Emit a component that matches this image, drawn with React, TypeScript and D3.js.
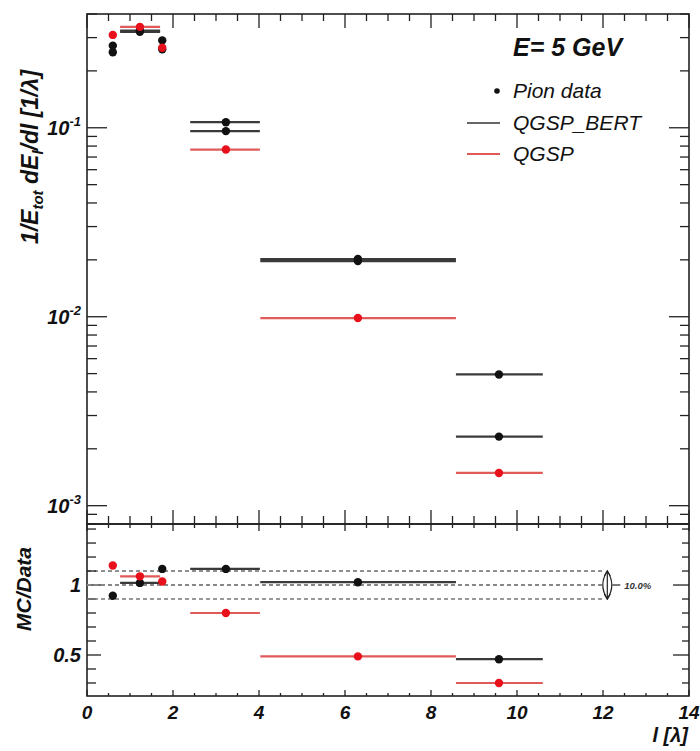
import React from 'react';
import * as d3 from 'd3';

// ---- data ----
const binCenter = [0.6, 1.23, 1.75, 3.23, 6.3, 9.58];
const binLo = [0.52, 0.77, 1.7, 2.4, 4.03, 8.58];
const binHi = [0.68, 1.7, 1.8, 4.02, 8.58, 10.6];
const pionData = [0.272, 0.322, 0.26, 0.096, 0.0197, 0.00495];
const qgspBert = [0.251, 0.327, 0.29, 0.107, 0.0202, 0.00232];
const qgsp = [0.31, 0.342, 0.265, 0.0767, 0.00984, 0.00149];
const ratioBert = [0.923, 1.015, 1.115, 1.115, 1.02, 0.47];
const ratioQgsp = [1.14, 1.062, 1.025, 0.8, 0.49, 0.3];
const xTickLabels = [0, 2, 4, 6, 8, 10, 12, 14];
const yTopDecades = [1e-3, 1e-2, 1e-1];
const yTopExponents = ['-3', '-2', '-1'];
const yBotLabels = [0.5, 1];
const bandLevels = [0.9, 1.0, 1.1];
const bandLabel = '10.0%';
const energyLabel = 'E= 5 GeV';
const legendNames = ['Pion data', 'QGSP_BERT', 'QGSP'];

const W = 700;
const H = 751;
const L = 87;
const R = 689;
const T = 14;
const MID = 524;
const B = 696;

const FONT = "'Liberation Sans', Arial, Helvetica, sans-serif";
const BLACK = '#111';
const BAR_BLACK = '#3a3a3a';
const RED = '#e8101a';
const BAR_RED = '#e05a5a';

export default function App() {
  const x = d3.scaleLinear().domain([0, 14]).range([L, R]);
  const yTop = d3.scaleLog().domain([0.0008, 0.4]).range([MID, T]);
  const yBot = d3.scaleLinear().domain([0.207, 1.436]).range([B, MID]);

  const xMinor = d3.range(0, 14.001, 0.5);
  const topMinor = yTop.ticks(40).filter((v) => v >= 0.0008 && v <= 0.4);
  const botMinor = d3.range(3, 15, 1).map((v) => v / 10);

  const isMajorX = (v: number) => Math.abs(v / 2 - Math.round(v / 2)) < 1e-6;
  const isDecade = (v: number) => Math.abs(Math.log10(v) - Math.round(Math.log10(v))) < 1e-6;
  const isMajorBot = (v: number) => Math.abs(v - 0.5) < 1e-6 || Math.abs(v - 1) < 1e-6;

  const series = [
    { vals: pionData, bar: BAR_BLACK, dot: BLACK },
    { vals: qgspBert, bar: BAR_BLACK, dot: BLACK },
    { vals: qgsp, bar: BAR_RED, dot: RED },
  ];
  const ratioSeries = [
    { vals: ratioBert, bar: BAR_BLACK, dot: BLACK },
    { vals: ratioQgsp, bar: BAR_RED, dot: RED },
  ];

  const arrowX = x(12.1);
  const yA = yBot(bandLevels[2]);
  const yB = yBot(bandLevels[0]);
  const yM = yBot(bandLevels[1]);

  return (
    <svg width={W} height={H} style={{ position: 'absolute', left: 0, top: 0, background: '#fff' }} fontFamily={FONT}>
      <rect x={0} y={0} width={W} height={H} fill="#fff" />

      {/* ---- ticks ---- */}
      <g stroke="#222" strokeWidth={1.3}>
        {xMinor.map((v, i) => {
          const len = isMajorX(v) ? 14 : 7;
          return (
            <g key={'xt' + i}>
              <line x1={x(v)} x2={x(v)} y1={T} y2={T + len} />
              <line x1={x(v)} x2={x(v)} y1={MID} y2={MID - (isMajorX(v) ? 14 : 8)} />
              <line x1={x(v)} x2={x(v)} y1={MID} y2={MID + (isMajorX(v) ? 7 : 4)} />
              <line x1={x(v)} x2={x(v)} y1={B} y2={B - (isMajorX(v) ? 6 : 3)} />
            </g>
          );
        })}
        {topMinor.map((v, i) => {
          const dec = isDecade(v);
          return (
            <g key={'yt' + i}>
              <line x1={L} x2={L + (dec ? 20 : 10)} y1={yTop(v)} y2={yTop(v)} />
              <line x1={R} x2={R - (dec ? 20 : 9)} y1={yTop(v)} y2={yTop(v)} />
            </g>
          );
        })}
        {botMinor.map((v, i) => {
          const maj = isMajorBot(v);
          return (
            <g key={'yb' + i}>
              <line x1={L} x2={L + (maj ? 14 : 9)} y1={yBot(v)} y2={yBot(v)} />
              <line x1={R} x2={R - (maj ? 16 : 7)} y1={yBot(v)} y2={yBot(v)} />
            </g>
          );
        })}
      </g>

      {/* frames */}
      <rect x={L} y={T} width={R - L} height={MID - T} fill="none" stroke="#222" strokeWidth={1.6} />
      <rect x={L} y={MID} width={R - L} height={B - MID} fill="none" stroke="#222" strokeWidth={1.6} />

      {/* ---- top panel data ---- */}
      {series.map((s, si) => (
        <g key={'s' + si}>
          {s.vals.map((v, i) => (
            <line key={'b' + i} x1={x(binLo[i])} x2={x(binHi[i])} y1={yTop(v)} y2={yTop(v)} stroke={s.bar} strokeWidth={2.2} />
          ))}
        </g>
      ))}
      {series.map((s, si) => (
        <g key={'d' + si}>
          {s.vals.map((v, i) => (
            <circle key={'c' + i} cx={x(binCenter[i])} cy={yTop(v)} r={4.2} fill={s.dot} />
          ))}
        </g>
      ))}

      {/* ---- ratio panel ---- */}
      <line x1={x(0)} x2={x(12)} y1={yA} y2={yA} stroke="#222" strokeWidth={1} strokeDasharray="4,3" />
      <line x1={x(0)} x2={x(12)} y1={yM} y2={yM} stroke="#888" strokeWidth={1.8} strokeDasharray="4,3" />
      <line x1={x(0)} x2={x(12)} y1={yB} y2={yB} stroke="#777" strokeWidth={1.5} strokeDasharray="4,3" />
      {ratioSeries.map((s, si) => (
        <g key={'r' + si}>
          {s.vals.map((v, i) => (
            <line key={'rb' + i} x1={x(binLo[i])} x2={x(binHi[i])} y1={yBot(v)} y2={yBot(v)} stroke={s.bar} strokeWidth={2.2} />
          ))}
        </g>
      ))}
      {ratioSeries.map((s, si) => (
        <g key={'rd' + si}>
          {s.vals.map((v, i) => (
            <circle key={'rc' + i} cx={x(binCenter[i])} cy={yBot(v)} r={4.2} fill={s.dot} />
          ))}
        </g>
      ))}

      {/* band arrow */}
      <g stroke="#222" strokeWidth={1.2} fill="none">
        <line x1={arrowX} x2={arrowX} y1={yA} y2={yB} />
        <path d={`M${arrowX},${yA} Q${arrowX - 9},${yM} ${arrowX},${yB} Q${arrowX + 9},${yM} ${arrowX},${yA} Z`} />
        <path d={`M${arrowX - 3},${yA + 5} L${arrowX},${yA} L${arrowX + 3},${yA + 5}`} />
        <path d={`M${arrowX - 3},${yB - 5} L${arrowX},${yB} L${arrowX + 3},${yB - 5}`} />
        <line x1={arrowX + 5} x2={arrowX + 13} y1={yM} y2={yM} />
      </g>
      <text x={arrowX + 17} y={yM + 4} fontSize={9.5} fontStyle="italic" fontWeight="bold" fill="#333">
        {bandLabel}
      </text>

      {/* ---- tick labels ---- */}
      <g fontSize={19} fontStyle="italic" fontWeight="bold" fill="#111">
        {xTickLabels.map((v) => (
          <text key={'xl' + v} x={x(v)} y={719} textAnchor="middle">
            {v}
          </text>
        ))}
        {yTopDecades.map((v, i) => (
          <text key={'yl' + i} x={81} y={yTop(v) + 7} textAnchor="end" fontSize={20}>
            10
            <tspan dy={-9} fontSize={13}>
              {yTopExponents[i]}
            </tspan>
          </text>
        ))}
        {yBotLabels.map((v) => (
          <text key={'bl' + v} x={81} y={yBot(v) + 7} textAnchor="end" fontSize={20}>
            {v}
          </text>
        ))}
      </g>

      {/* ---- axis titles ---- */}
      <g fontStyle="italic" fontWeight="bold" fill="#111">
        <text transform="translate(38,157) rotate(-90)" textAnchor="middle" fontSize={23}>
          1/E
          <tspan dy={5} fontSize={15}>tot</tspan>
          <tspan dy={-5}> dE</tspan>
          <tspan dy={5} fontSize={15}>l</tspan>
          <tspan dy={-5}>/dl [1/λ]</tspan>
        </text>
        <text transform="translate(31,589) rotate(-90)" textAnchor="middle" fontSize={21}>
          MC/Data
        </text>
        <text x={688} y={742} textAnchor="end" fontSize={20}>
          l [λ]
        </text>
      </g>

      {/* ---- legend ---- */}
      <g fontStyle="italic" fill="#111" fontFamily={FONT}>
        <text x={513} y={56} fontSize={25} fontWeight="bold">
          {energyLabel}
        </text>
        <circle cx={497} cy={91} r={2.8} fill={BLACK} />
        <text x={513} y={98} fontSize={21}>
          {legendNames[0]}
        </text>
        <line x1={467} x2={500} y1={123} y2={123} stroke="#333" strokeWidth={1.5} />
        <text x={513} y={130} fontSize={21}>
          {legendNames[1]}
        </text>
        <line x1={467} x2={500} y1={154} y2={154} stroke={BAR_RED} strokeWidth={2} />
        <text x={513} y={161} fontSize={21}>
          {legendNames[2]}
        </text>
      </g>
    </svg>
  );
}
